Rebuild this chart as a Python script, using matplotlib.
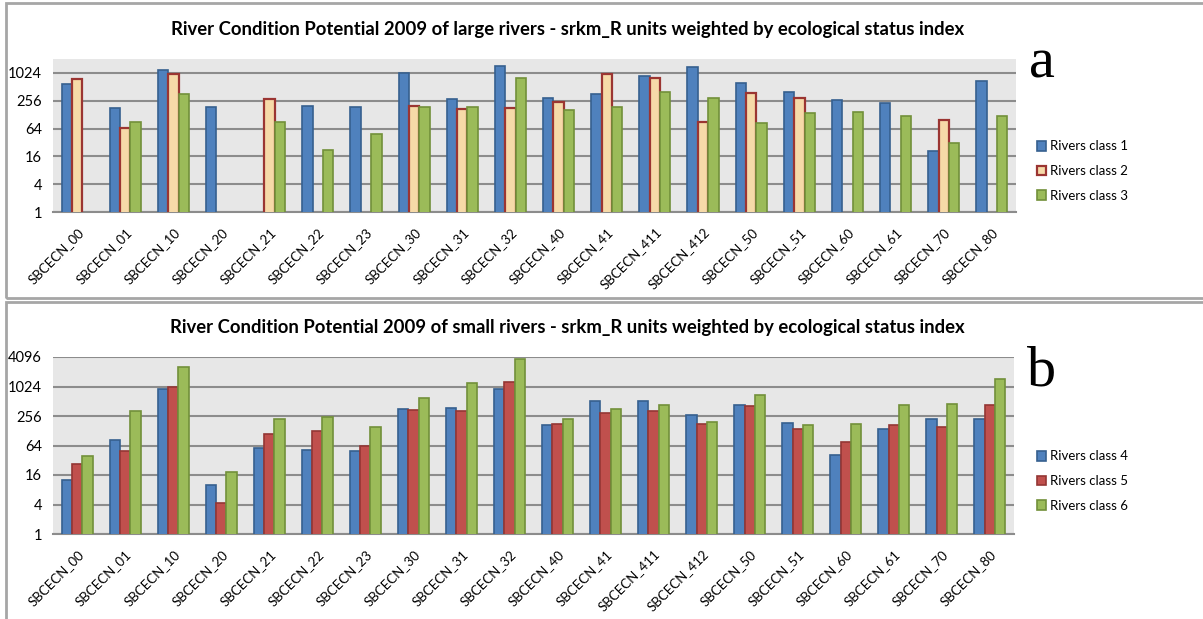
import numpy as np
import matplotlib
matplotlib.use("Agg")
import matplotlib.pyplot as plt
from matplotlib.patches import Rectangle
from matplotlib.ticker import FixedLocator, NullLocator

plt.rcParams['font.family'] = ['Lato', 'DejaVu Sans']

nan = np.nan
units = ['SBCECN_00', 'SBCECN_01', 'SBCECN_10', 'SBCECN_20', 'SBCECN_21',
         'SBCECN_22', 'SBCECN_23', 'SBCECN_30', 'SBCECN_31', 'SBCECN_32',
         'SBCECN_40', 'SBCECN_41', 'SBCECN_411', 'SBCECN_412', 'SBCECN_50',
         'SBCECN_51', 'SBCECN_60', 'SBCECN_61', 'SBCECN_70', 'SBCECN_80']

# large rivers (panel a)
class1 = [596, 180, 1200, 185, nan, 195, 185, 1000, 282, 1440,
          290, 362, 860, 1350, 615, 391, 267, 226, 21, 695]
class2 = [766, 66, 950, nan, 276, nan, nan, 201, 167, 182,
          246, 990, 805, 87, 380, 300, nan, nan, 100, nan]
class3 = [nan, 89, 350, nan, 89, 22, 49, 185, 185, 790,
          159, 185, 405, 300, 83, 137, 147, 118, 31, 122]

# small rivers (panel b)
class4 = [12.5, 84, 930, 10.2, 58, 53, 50, 350, 373, 930,
          164, 512, 512, 267, 423, 180, 41, 142, 218, 218]
class5 = [26.7, 48.6, 1010, 4.3, 111, 127, 63, 334, 318, 1280,
          175, 290, 318, 172, 404, 136, 75, 167, 152, 423]
class6 = [39, 318, 2520, 18, 218, 244, 152, 600, 1235, 3740,
          224, 355, 438, 195, 700, 164, 172, 438, 452, 1470]

W, H = 1203, 619
fig = plt.figure(figsize=(W / 100, H / 100), dpi=100)

# panel frames
for (x0, y0, x1, y1) in [(6, 3, 1210, 298), (6, 302, 1210, 630)]:
    fig.add_artist(Rectangle((x0 / W, 1 - y1 / H), (x1 - x0) / W, (y1 - y0) / H,
                             transform=fig.transFigure, fill=False,
                             edgecolor='#A6A6A6', linewidth=2))


def px_axes(x0, y0, x1, y1):
    return fig.add_axes([x0 / W, 1 - y1 / H, (x1 - x0) / W, (y1 - y0) / H])


def draw_panel(ax, series, labels, styles, ymax, yticks):
    x = np.arange(len(units))
    w = 0.215
    for i, (vals, lab, st) in enumerate(zip(series, labels, styles)):
        ax.bar(x + (i - 1) * w, vals, w, label=lab, zorder=3, **st)
    ax.set_yscale('log', base=2)
    ax.set_ylim(1, ymax)
    ax.set_xlim(-0.5, len(units) - 0.5)
    ax.yaxis.set_major_locator(FixedLocator(yticks))
    ax.yaxis.set_minor_locator(NullLocator())
    ax.set_yticklabels([str(t) for t in yticks], fontsize=10.5)
    ax.set_xticks(x)
    ax.set_xticklabels(units, rotation=45, ha='right', rotation_mode='anchor',
                       fontsize=9.5)
    ax.tick_params(axis='y', length=0, pad=8)
    ax.tick_params(axis='x', length=0, pad=10)
    ax.set_facecolor('#E7E7E7')
    ax.grid(axis='y', color='#8C8C8C', linewidth=1.5, zorder=0)
    for s in ['top', 'right', 'left']:
        ax.spines[s].set_visible(False)
    ax.spines['bottom'].set_color('#8C8C8C')
    ax.spines['bottom'].set_linewidth(1.5)


blue = dict(color='#4F81BD', edgecolor='#36608F', linewidth=1.2)
tan = dict(color='#F6DAA8', edgecolor='#9B3532', linewidth=1.6)
green = dict(color='#9BBB59', edgecolor='#72903A', linewidth=1.2)
red = dict(color='#C0504D', edgecolor='#943634', linewidth=1.2)

ax1 = px_axes(53, 59, 1016, 212)
draw_panel(ax1, [class1, class2, class3],
           ['Rivers class 1', 'Rivers class 2', 'Rivers class 3'],
           [blue, tan, green], 2048, [1, 4, 16, 64, 256, 1024])

ax2 = px_axes(53, 357, 1014, 534)
draw_panel(ax2, [class4, class5, class6],
           ['Rivers class 4', 'Rivers class 5', 'Rivers class 6'],
           [blue, red, green], 4096, [1, 4, 16, 64, 256, 1024, 4096])

fig.text(568 / W, 1 - 30 / H,
         'River Condition Potential 2009 of large rivers - srkm_R units weighted by ecological status index',
         ha='center', va='center', fontsize=13.3, fontweight='bold')
fig.text(567 / W, 1 - 328 / H,
         'River Condition Potential 2009 of small rivers - srkm_R units weighted by ecological status index',
         ha='center', va='center', fontsize=13.3, fontweight='bold')

fig.text(1029 / W, 1 - 78 / H, 'a', family='Liberation Serif', fontsize=42,
         ha='left', va='baseline')
fig.text(1027 / W, 1 - 385 / H, 'b', family='Liberation Serif', fontsize=42,
         ha='left', va='baseline')

for ax, yc in [(ax1, 171), (ax2, 481)]:
    ax.legend(loc='center left', bbox_to_anchor=(1030 / W, 1 - yc / H),
              bbox_transform=fig.transFigure, frameon=False, fontsize=9.5,
              handlelength=0.75, handleheight=0.75, handletextpad=0.3,
              labelspacing=0.95, borderpad=0)

fig.savefig('out.png', dpi=100)
